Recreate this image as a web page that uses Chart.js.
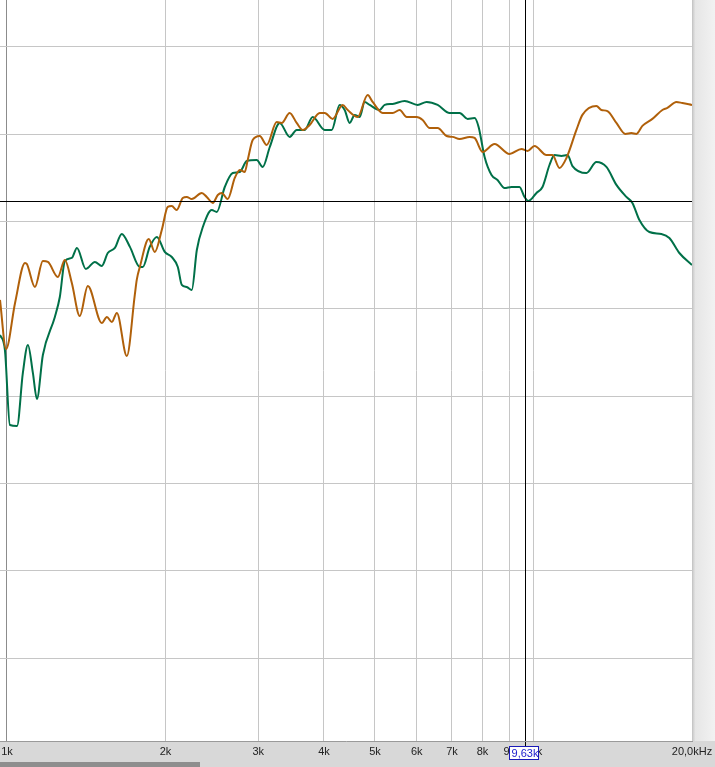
<!DOCTYPE html>
<html>
<head>
<meta charset="utf-8">
<script src="https://cdn.jsdelivr.net/npm/chart.js@4/dist/chart.umd.min.js"></script>
<style>
  body { margin: 0; background: #ffffff; }
  #wrap { width: 715px; height: 767px; }
</style>
</head>
<body>
<div id="wrap"><canvas id="fr" width="715" height="767"></canvas></div>
<script>
// frequency axis (Hz) and level grid (dB)
const freqTicks = [1000, 2000, 3000, 4000, 5000, 6000, 7000, 8000, 9000, 10000, 20000];
const gridDb = [55, 60, 65, 70, 75, 80, 85, 90];

// cursor readout
const cursorFreq = 9630;
const cursorDb = 81.2;
const cursorLabel = "9,63k";

// brown trace
const brownFreq = [970, 996, 1036, 1082, 1091, 1130, 1170, 1196, 1249, 1288, 1328, 1375, 1424, 1514, 1548, 1582, 1617, 1689, 1749, 1764, 1788, 1859, 1909, 1968, 2020, 2056, 2101, 2157, 2195, 2244, 2344, 2396, 2460, 2514, 2558, 2626, 2708, 2768, 2829, 2866, 2929, 3020, 3114, 3253, 3325, 3443, 3550, 3645, 3758, 3926, 4013, 4155, 4341, 4437, 4635, 4842, 4949, 5171, 5402, 5570, 5743, 5999, 6159, 6350, 6576, 6839, 7021, 7239, 7562, 7729, 8004, 8433, 9006, 9489, 9741, 10044, 10584, 10865, 11203, 11551, 12065, 12385, 13167, 13458, 13815, 14370, 14946, 15344, 15683, 16100, 16819, 17570, 17958, 18680, 19175, 20000];
const brownDb = [75.51, 72.70, 75.34, 77.63, 77.57, 76.25, 77.74, 77.69, 76.83, 77.80, 76.48, 74.59, 76.31, 74.19, 74.54, 74.25, 74.77, 72.30, 75.80, 76.66, 77.40, 79.00, 78.26, 79.52, 80.84, 80.89, 80.66, 81.35, 81.41, 81.29, 81.64, 81.41, 81.07, 81.52, 81.64, 81.29, 82.50, 82.96, 82.84, 83.53, 84.67, 84.90, 84.39, 85.70, 85.65, 86.22, 85.65, 85.25, 85.53, 86.22, 86.22, 85.88, 86.68, 86.39, 85.99, 87.25, 86.85, 86.22, 86.22, 86.39, 85.99, 85.99, 85.82, 85.36, 85.36, 84.90, 84.85, 84.73, 84.85, 84.79, 83.99, 84.44, 83.87, 84.16, 84.04, 84.33, 83.81, 83.81, 83.07, 83.64, 85.25, 86.11, 86.62, 86.39, 86.33, 85.65, 85.02, 85.07, 85.02, 85.48, 85.88, 86.39, 86.51, 86.85, 86.79, 86.68];

// green trace
const greenFreq = [970, 991, 1013, 1045, 1072, 1096, 1120, 1140, 1170, 1233, 1260, 1288, 1328, 1358, 1412, 1469, 1514, 1554, 1603, 1652, 1712, 1788, 1811, 1867, 1926, 1994, 2056, 2111, 2148, 2195, 2244, 2294, 2355, 2449, 2503, 2592, 2684, 2768, 2854, 2981, 3060, 3156, 3296, 3443, 3550, 3677, 3808, 4013, 4137, 4284, 4379, 4476, 4575, 4676, 4779, 4885, 5103, 5216, 5402, 5693, 6026, 6267, 6576, 6930, 7239, 7497, 7729, 7866, 8075, 8323, 8544, 8811, 9085, 9406, 9614, 9784, 10132, 10401, 10724, 10961, 11302, 11602, 11858, 12604, 13167, 13755, 14370, 15012, 15411, 15890, 16600, 17494, 18116, 18924, 20000];
const greenDb = [73.51, 72.65, 68.35, 68.29, 71.33, 72.93, 71.33, 69.84, 72.36, 74.54, 75.68, 77.74, 77.92, 78.49, 77.29, 77.69, 77.46, 78.20, 78.49, 79.29, 78.55, 77.40, 77.40, 78.55, 79.12, 78.26, 77.97, 77.40, 76.37, 76.25, 76.08, 78.37, 79.69, 80.66, 80.55, 81.98, 82.78, 82.84, 83.47, 83.53, 83.13, 84.27, 85.65, 84.85, 85.25, 85.25, 85.99, 85.25, 85.25, 86.68, 86.39, 85.65, 86.11, 85.99, 86.85, 86.68, 86.39, 86.68, 86.74, 86.91, 86.68, 86.85, 86.68, 86.22, 86.22, 85.88, 85.93, 85.42, 83.70, 82.67, 82.38, 81.92, 81.98, 81.98, 81.41, 81.18, 81.64, 81.98, 83.24, 83.81, 83.76, 83.81, 83.18, 82.78, 83.41, 83.13, 82.10, 81.41, 81.07, 80.09, 79.40, 79.29, 79.06, 78.20, 77.51];

const toPoints = (fs, ds) => fs.map((f, i) => ({ x: f, y: ds[i] }));

const panelBackground = {
  id: "panelBackground",
  beforeDraw(chart) {
    const { ctx, chartArea: a, width, height } = chart;
    ctx.save();
    ctx.fillStyle = "#d8d8d8";
    ctx.fillRect(0, 0, width, height);
    // right strip
    const g = ctx.createLinearGradient(a.right, 0, width, 0);
    g.addColorStop(0, "#c4c4c4");
    g.addColorStop(0.15, "#e6e6e6");
    g.addColorStop(1, "#f2f2f2");
    ctx.fillStyle = g;
    ctx.fillRect(a.right, 0, width - a.right, a.bottom);
    // plot area
    ctx.fillStyle = "#ffffff";
    ctx.fillRect(a.left, a.top, a.right - a.left, a.bottom - a.top);
    // scrollbar thumb
    ctx.fillStyle = "#8e8e8e";
    ctx.fillRect(0, height - 5, 200, 5);
    ctx.restore();
  },
  afterDraw(chart) {
    const { ctx, chartArea: a } = chart;
    ctx.save();
    ctx.strokeStyle = "#9a9a9a";
    ctx.lineWidth = 1;
    ctx.beginPath();
    ctx.moveTo(a.left, a.bottom + 0.5);
    ctx.lineTo(a.right + 1, a.bottom + 0.5);
    ctx.stroke();
    ctx.restore();
  }
};

const cursor = {
  id: "cursor",
  afterDatasetsDraw(chart) {
    const { ctx, chartArea: a, scales } = chart;
    const px = Math.round(scales.x.getPixelForValue(cursorFreq)) + 0.5;
    const py = Math.round(scales.y.getPixelForValue(cursorDb)) + 0.5;
    ctx.save();
    ctx.strokeStyle = "#000000";
    ctx.lineWidth = 1;
    ctx.beginPath();
    ctx.moveTo(a.left, py);
    ctx.lineTo(a.right, py);
    ctx.moveTo(px, a.top);
    ctx.lineTo(px, a.bottom + 5);
    ctx.stroke();
    ctx.restore();
  },
  afterDraw(chart) {
    const { ctx, chartArea: a, scales } = chart;
    const px = Math.round(scales.x.getPixelForValue(cursorFreq));
    ctx.save();
    ctx.font = "11px 'Liberation Sans', Arial, sans-serif";
    const w = Math.ceil(ctx.measureText(cursorLabel).width) + 3;
    const left = px - Math.floor(w / 2) - 1;
    const top = a.bottom + 5;
    ctx.fillStyle = "#ffffff";
    ctx.fillRect(left, top, w, 14);
    ctx.strokeStyle = "#1a1ab8";
    ctx.lineWidth = 1;
    ctx.strokeRect(left + 0.5, top + 0.5, w - 1, 13);
    ctx.fillStyle = "#1a1acc";
    ctx.textBaseline = "middle";
    ctx.textAlign = "center";
    ctx.fillText(cursorLabel, px, top + 7.5);
    ctx.restore();
  }
};

const frCanvas = document.getElementById("fr");

new Chart(frCanvas, {
  type: "line",
  data: {
    datasets: [
      {
        data: toPoints(brownFreq, brownDb),
        borderColor: "#b0600a",
        borderWidth: 2,
        pointRadius: 0,
        cubicInterpolationMode: "monotone",
      },
      {
        data: toPoints(greenFreq, greenDb),
        borderColor: "#007048",
        borderWidth: 2,
        pointRadius: 0,
        cubicInterpolationMode: "monotone",
      },
    ],
  },
  options: {
    responsive: false,
    animation: false,
    layout: { padding: { left: 0, right: 23, top: 0, bottom: 0 } },
    plugins: { legend: { display: false }, tooltip: { enabled: false } },
    scales: {
      x: {
        type: "logarithmic",
        min: 970,
        max: 20000,
        afterBuildTicks: (scale) => {
          scale.ticks = freqTicks.map((v) => ({ value: v }));
        },
        afterFit: (scale) => {
          scale.height = 26;
          scale.paddingLeft = 0;
          scale.paddingRight = 0;
        },
        border: { display: false },
        grid: {
          drawTicks: false,
          color: (c) => (c.tick && c.tick.value === 1000 ? "#8c8c8c" : "#c6c6c6"),
        },
        ticks: {
          autoSkip: false,
          maxRotation: 0,
          padding: 4,
          color: "#222222",
          font: { family: "'Liberation Sans', Arial, sans-serif", size: 11 },
          callback: (v) => (v === 20000 ? "20,0kHz" : v / 1000 + "k"),
        },
      },
      y: {
        min: 50.25,
        max: 92.69,
        afterBuildTicks: (scale) => {
          scale.ticks = gridDb.map((v) => ({ value: v }));
        },
        afterFit: (scale) => {
          scale.width = 0;
        },
        border: { display: false },
        grid: { drawTicks: false, color: "#c6c6c6" },
        ticks: { display: false },
      },
    },
  },
  plugins: [panelBackground, cursor],
});
</script>
</body>
</html>
